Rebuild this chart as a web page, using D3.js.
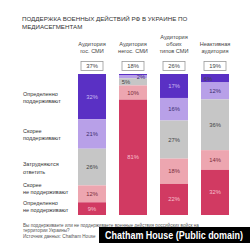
<!DOCTYPE html>
<html><head><meta charset="utf-8">
<script src="https://cdn.jsdelivr.net/npm/d3@7"></script>
<style>
html,body{margin:0;padding:0;background:#fff;}
svg{display:block;font-family:"Liberation Sans",Arial,sans-serif;}
</style></head>
<body>
<svg id="chart" width="250" height="243"></svg>
<script>
const titleLines = ["ПОДДЕРЖКА ВОЕННЫХ ДЕЙСТВИЙ РФ В УКРАИНЕ ПО", "МЕДИАСЕГМЕНТАМ"];
const categories = ["gos", "negos", "both", "inactive"];
const categoryLabels = [["Аудитория", "гос. СМИ"], ["Аудитория", "негос. СМИ"], ["Аудитория", "обоих", "типов СМИ"], ["Неактивная", "аудитория"]];
const audienceShare = ["37%", "18%", "26%", "19%"];
const seriesKeys = ["def_yes", "rather_yes", "unsure", "rather_no", "def_no"];
const seriesLabels = [["Определенно", "поддерживают"], ["Скорее", "поддерживают"], ["Затрудняются", "ответить"], ["Скорее", "не поддерживают"], ["Определенно", "не поддерживают"]];
const defYes = [32, 1, 17, 6];
const ratherYes = [21, 2, 16, 12];
const unsure = [26, 5, 27, 36];
const ratherNo = [12, 10, 18, 14];
const defNo = [9, 81, 22, 32];
const footerLines = ["Вы поддерживаете или не поддерживаете военные действия российских войск на", "территории Украины?", "Источник данных: Chatham House"];
const creditText = "Chatham House (Public domain)";

const colors = ["#5a30c4", "#b8a0e8", "#c6c6c6", "#eda6b0", "#d13a62"];
const textColors = ["#cbbcf2", "#3d2d6e", "#444", "#7a2c3c", "#f6c0cf"];

const seriesValues = [defYes, ratherYes, unsure, ratherNo, defNo];
const rows = categories.map((c, i) => {
  const r = {cat: c};
  seriesKeys.forEach((k, j) => r[k] = seriesValues[j][i]);
  return r;
});

const svg = d3.select("#chart");
const x = d3.scaleBand().domain(categories).range([78, 229]).paddingInner(0.317).paddingOuter(0);
const y = d3.scaleLinear().domain([0, 1]).range([74, 215]);

const stack = d3.stack().keys(seriesKeys).offset(d3.stackOffsetExpand);
const layers = stack(rows);

// title
svg.append("g").selectAll("text").data(titleLines).join("text")
  .attr("x", 22).attr("y", (d, i) => 21 + i * 7.5)
  .attr("font-size", 6.2).attr("fill", "#333").text(d => d);

// column headers
categories.forEach((c, i) => {
  const lines = categoryLabels[i];
  const cx = x(c) + x.bandwidth() / 2;
  svg.append("g").selectAll("text").data(lines).join("text")
    .attr("x", cx).attr("y", (d, j) => 53 - (lines.length - 1 - j) * 7)
    .attr("text-anchor", "middle").attr("font-size", 5.6).attr("fill", "#444").text(d => d);
  svg.append("rect").attr("x", cx - 11).attr("y", 61.5).attr("width", 22).attr("height", 9)
    .attr("fill", "#fff").attr("stroke", "#9a9a9a").attr("stroke-width", 0.8);
  svg.append("text").attr("x", cx).attr("y", 68.3).attr("text-anchor", "middle")
    .attr("font-size", 5.8).attr("fill", "#444").text(audienceShare[i]);
});

// bars
const g = svg.append("g");
layers.forEach((layer, li) => {
  g.append("g").selectAll("rect").data(layer).join("rect")
    .attr("x", d => x(d.data.cat)).attr("width", x.bandwidth())
    .attr("y", d => y(d[0])).attr("height", d => y(d[1]) - y(d[0]))
    .attr("fill", colors[li]);
});

// segment labels
layers.forEach((layer, li) => {
  layer.forEach((d, ci) => {
    const v = seriesValues[li][ci];
    const h = y(d[1]) - y(d[0]);
    if (h < 2) return;
    let cx = x(d.data.cat) + x.bandwidth() / 2;
    let cy = (y(d[0]) + y(d[1])) / 2 + 2;
    let fill = textColors[li];
    if (h < 6) { cx = x(d.data.cat) + x.bandwidth() - 6; cy = y(d[0]) + 3.5; }
    else if (h < 9) { cx = x(d.data.cat) + 7; cy = y(d[0]) + h / 2 + 2.5; fill = "#444"; }
    g.append("text").attr("x", cx).attr("y", cy).attr("text-anchor", "middle")
      .attr("font-size", 5.8).attr("fill", fill).text(v + "%");
  });
});

// left row labels (aligned to first bar segments)
const nudge = [-1, -1, -1, -7, -4];
layers.forEach((layer, li) => {
  const d = layer[0];
  const mid = (y(d[0]) + y(d[1])) / 2 + nudge[li];
  svg.append("g").selectAll("text").data(seriesLabels[li]).join("text")
    .attr("x", 23).attr("y", (t, j) => mid + j * 7.5)
    .attr("font-size", 5.5).attr("fill", "#333").text(t => t);
});

// footer (first line partly hidden under the credit box, as in the reference)
svg.append("g").selectAll("text").data(footerLines).join("text")
  .attr("x", 23).attr("y", (d, i) => 226.5 + i * 5.5)
  .attr("font-size", 4.6).attr("fill", "#555").text(d => d);

// credit overlay
svg.append("rect").attr("x", 99).attr("y", 227).attr("width", 151).attr("height", 16).attr("fill", "#000");
svg.append("text").attr("x", 105).attr("y", 238.5).attr("font-size", 10).attr("font-weight", "bold")
  .attr("textLength", 138).attr("lengthAdjust", "spacingAndGlyphs")
  .attr("fill", "#fff").text(creditText);
</script>
</body></html>
